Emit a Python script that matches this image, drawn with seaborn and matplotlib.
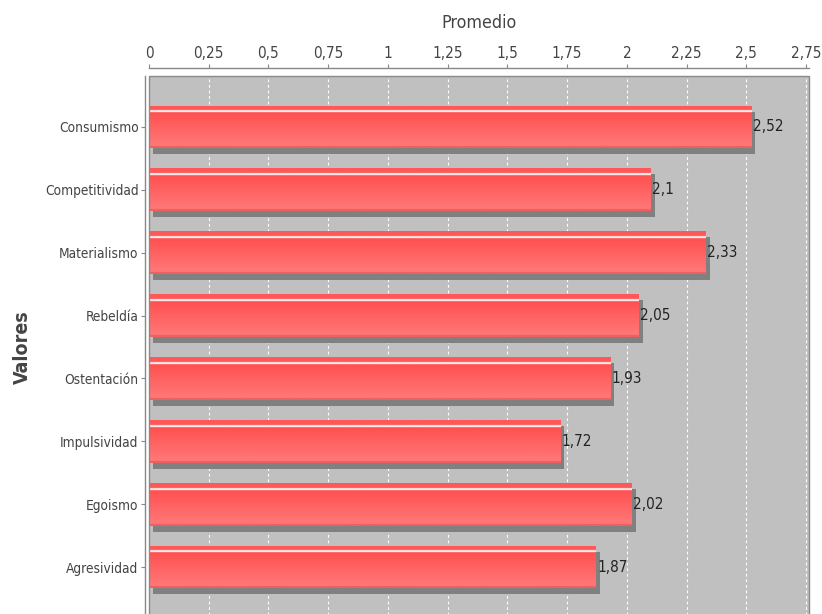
import numpy as np
import pandas as pd
import matplotlib
matplotlib.use("Agg")
import matplotlib.pyplot as plt
import matplotlib.transforms as mtransforms
from matplotlib.patches import Rectangle
from matplotlib.colors import to_rgb
from matplotlib import font_manager
import seaborn as sns

# ---------------- data ----------------
categories = ["Consumismo", "Competitividad", "Materialismo", "Rebeldía",
              "Ostentación", "Impulsividad", "Egoismo", "Agresividad"]
values = [2.52, 2.1, 2.33, 2.05, 1.93, 1.72, 2.02, 1.87]
value_labels = ["2,52", "2,1", "2,33", "2,05", "1,93", "1,72", "2,02", "1,87"]
x_ticks = [0, 0.25, 0.5, 0.75, 1, 1.25, 1.5, 1.75, 2, 2.25, 2.5, 2.75]
x_tick_labels = ["0", "0,25", "0,5", "0,75", "1", "1,25", "1,5", "1,75",
                 "2", "2,25", "2,5", "2,75"]
x_title = "Promedio"
y_title = "Valores"

df = pd.DataFrame({"Valores": categories, "Promedio": values})

# ---------------- style ----------------
sns.set_style("white")
names = {f.name for f in font_manager.fontManager.ttflist}
if "Liberation Sans Narrow" in names:
    narrow = ["Liberation Sans Narrow", "DejaVu Sans"]
    stretch = "normal"
    fs = 11.2
elif "DejaVu Sans Condensed" in names:
    narrow = ["DejaVu Sans Condensed", "DejaVu Sans"]
    stretch = "normal"
    fs = 9.8
else:
    narrow = ["DejaVu Sans", "Liberation Sans"]
    stretch = "condensed"
    fs = 9.8
plt.rcParams["font.family"] = narrow
plt.rcParams["font.stretch"] = stretch
text_color = "#444444"

W, H, DPI = 822, 614, 100
fig = plt.figure(figsize=(W / DPI, H / DPI), dpi=DPI)
fig.patch.set_facecolor("white")
ax = fig.add_axes([149 / W, -4 / H, 660 / W, 542 / H])
ax.set_facecolor("#C0C0C0")

bar_w = 0.68
sns.barplot(data=df, x="Promedio", y="Valores", orient="h", color="#FF5A5A",
            width=bar_w, ax=ax, saturation=1, zorder=3)

# gradient for bars
top = np.array(to_rgb("#FF5050"))
bot = np.array(to_rgb("#FF7878"))
n = 60
rows = []
for k in range(n):
    t = k / (n - 1)
    if 0.11 <= t <= 0.16:
        c = np.array(to_rgb("#FFE8E8"))
    elif t < 0.11:
        c = np.array(to_rgb("#FF5858"))
    elif t > 0.95:
        c = np.array(to_rgb("#F06060"))
    else:
        s = (t - 0.16) / (0.95 - 0.16)
        c = top * (1 - s) + bot * s
    rows.append(c)
grad = np.array(rows).reshape(n, 1, 3)

shadow_offset = mtransforms.ScaledTranslation(4 / DPI, -6 / DPI, fig.dpi_scale_trans)
for p in list(ax.patches):
    x0, y0 = p.get_x(), p.get_y()
    w, h = p.get_width(), p.get_height()
    sh = Rectangle((x0, y0), w, h, transform=ax.transData + shadow_offset,
                   facecolor="#808080", edgecolor="none", zorder=2)
    ax.add_patch(sh)
    im = ax.imshow(grad, extent=(x0, x0 + w, y0 + h, y0), origin="upper",
                   aspect="auto", zorder=4, interpolation="bilinear")
    im.set_clip_path(p)
    p.set_edgecolor("none")

ax.set_xlim(0, 2.762)
ax.set_ylim(len(categories) - 1 + 0.81, -0.81)

# value labels
for i, (v, lab) in enumerate(zip(values, value_labels)):
    ax.annotate(lab, xy=(v, i), xytext=(1, 0), textcoords="offset points",
                ha="left", va="center", fontsize=fs + 1.2, color="#222222",
                family=narrow, stretch=stretch, zorder=6)

# grid
ax.set_xticks(x_ticks)
ax.set_xticklabels(x_tick_labels)
for xv in x_ticks[1:]:
    ax.axvline(xv, color="white", lw=0.8, ls=(0, (2.5, 2.5)), zorder=1)

# axes: top x axis
ax.xaxis.tick_top()
ax.xaxis.set_label_position("top")
ax.set_xlabel(x_title, fontsize=fs + 3, color=text_color, labelpad=13,
              family=narrow, stretch=stretch)
ax.set_ylabel(y_title, fontsize=14, color=text_color, fontweight="bold",
              family=["DejaVu Sans"])
ax.yaxis.set_label_coords((32 - 149) / 660, 0.5)
ax.tick_params(axis="x", which="both", top=True, bottom=False, direction="out",
               length=3, width=0.8, color="#888888", labelsize=fs + 1.2,
               labelcolor=text_color, pad=2)
ax.tick_params(axis="y", which="both", left=True, direction="out", length=3,
               width=0.8, color="#888888", labelsize=fs, labelcolor=text_color, pad=1.5)

for name, sp in ax.spines.items():
    sp.set_visible(False)
ax.spines["top"].set_visible(True)
ax.spines["top"].set_position(("outward", 6))
ax.spines["top"].set_color("#888888")
ax.spines["top"].set_linewidth(1.0)
ax.spines["left"].set_visible(True)
ax.spines["left"].set_position(("outward", 3))
ax.spines["left"].set_color("#888888")
ax.spines["left"].set_linewidth(1.0)

# plot area outline
ax.add_patch(Rectangle((0, 0), 1, 1, transform=ax.transAxes, fill=False,
                       edgecolor="#8A8A8A", lw=1.0, zorder=7, clip_on=False))

fig.savefig("out.png", dpi=DPI)
